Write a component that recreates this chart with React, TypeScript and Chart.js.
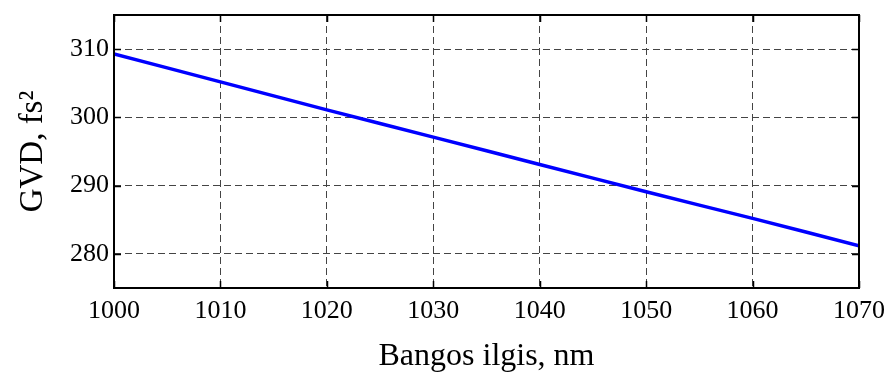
import React, { useEffect, useRef } from "react";
import { Chart, registerables } from "chart.js";

Chart.register(...registerables);

const wavelengths = [1000, 1010, 1020, 1030, 1040, 1050, 1060, 1070];
const gvdValues = [309.3, 305.2, 301.1, 297.1, 293.1, 289.1, 285.2, 281.2];
const xTickValues = [1000, 1010, 1020, 1030, 1040, 1050, 1060, 1070];
const yTickValues = [280, 290, 300, 310];
const xTitle = "Bangos ilgis, nm";
const yTitle = "GVD, fs\u00B2";

const FONT = "'Liberation Serif', 'Times New Roman', serif";

const boxPlugin = {
  id: "boxTicks",
  afterDraw(chart: any) {
    const { ctx, chartArea } = chart;
    const { left, right, top, bottom } = chartArea;
    const xs = chart.scales.x;
    const ys = chart.scales.y;
    const tl = 7;
    ctx.save();
    ctx.strokeStyle = "#000";
    ctx.lineWidth = 1.5;
    ctx.beginPath();
    xs.ticks.forEach((t: any) => {
      const px = Math.round(xs.getPixelForValue(t.value)) + 0.5;
      ctx.moveTo(px, bottom);
      ctx.lineTo(px, bottom - tl);
      ctx.moveTo(px, top);
      ctx.lineTo(px, top + tl);
    });
    ys.ticks.forEach((t: any) => {
      const py = Math.round(ys.getPixelForValue(t.value)) + 0.5;
      ctx.moveTo(left, py);
      ctx.lineTo(left + tl, py);
      ctx.moveTo(right, py);
      ctx.lineTo(right - tl, py);
    });
    ctx.stroke();
    ctx.lineWidth = 2;
    ctx.strokeRect(left, top, right - left, bottom - top);
    ctx.restore();
  },
};

export default function App() {
  const ref = useRef<HTMLCanvasElement>(null);
  useEffect(() => {
    if (!ref.current) return;
    const chart = new Chart(ref.current, {
      type: "line",
      data: {
        datasets: [
          {
            data: wavelengths.map((x, i) => ({ x, y: gvdValues[i] })),
            borderColor: "#0000ff",
            borderWidth: 3.5,
            pointRadius: 0,
            tension: 0.3,
            fill: false,
          },
        ],
      },
      options: {
        animation: false,
        responsive: false,
        maintainAspectRatio: false,
        layout: { padding: { top: 15, right: 30, left: 0, bottom: 0 } },
        plugins: { legend: { display: false }, tooltip: { enabled: false } },
        scales: {
          x: {
            type: "linear",
            min: 1000,
            max: 1070,
            afterBuildTicks: (s: any) => {
              s.ticks = xTickValues.map((v) => ({ value: v }));
            },
            afterFit: (s: any) => {
              s.height = 88;
              s.paddingLeft = 0;
              s.paddingRight = 0;
            },
            ticks: {
              padding: 8,
              color: "#000",
              font: { family: FONT, size: 26 },
              maxRotation: 0,
              autoSkip: false,
              callback: (v: any) => String(v),
            },
            grid: { color: "#444", lineWidth: 1, drawTicks: false },
            border: { display: false, dash: [7, 4] },
            title: {
              display: true,
              text: xTitle,
              color: "#000",
              font: { family: FONT, size: 32 },
              padding: { top: 0, bottom: 0 },
            },
          },
          y: {
            type: "linear",
            min: 275,
            max: 315,
            afterBuildTicks: (s: any) => {
              s.ticks = yTickValues.map((v) => ({ value: v }));
            },
            afterFit: (s: any) => {
              s.width = 114;
              s.paddingTop = 0;
              s.paddingBottom = 0;
            },
            ticks: {
              padding: 5,
              color: "#000",
              font: { family: FONT, size: 26 },
              autoSkip: false,
              callback: (v: any) => String(v),
            },
            grid: { color: "#444", lineWidth: 1, drawTicks: false },
            border: { display: false, dash: [7, 4] },
            title: {
              display: true,
              text: yTitle,
              color: "#000",
              font: { family: FONT, size: 33 },
              padding: { top: 14, bottom: 0 },
            },
          },
        },
      },
      plugins: [boxPlugin],
    });
    return () => chart.destroy();
  }, []);
  return (
    <div style={{ position: "fixed", left: 0, top: 0, width: 889, height: 376, background: "#fff" }}>
      <canvas ref={ref} width={889} height={376} style={{ display: "block", width: 889, height: 376 }} />
    </div>
  );
}
